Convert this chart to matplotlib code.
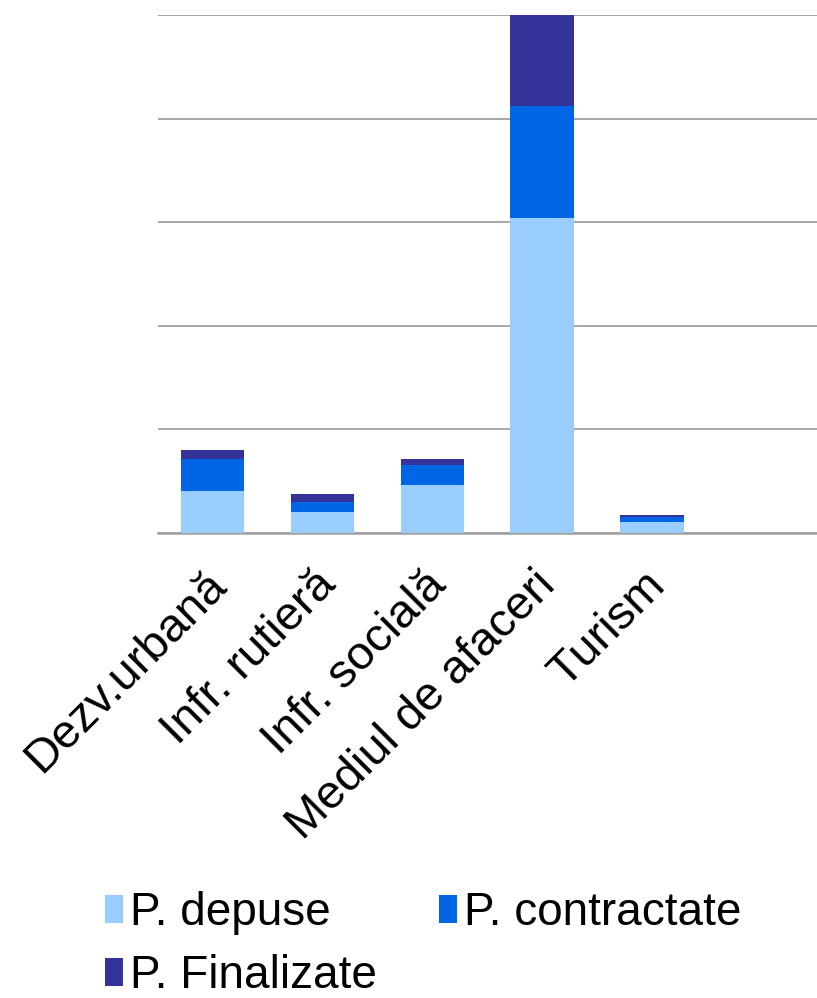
import matplotlib.pyplot as plt
import matplotlib.transforms as mtransforms
import numpy as np

plt.rcParams['font.family'] = ['Liberation Sans', 'DejaVu Sans']

categories = ["Dezv.urbană", "Infr. rutieră", "Infr. socială", "Mediul de afaceri", "Turism", ""]
depuse = [40.5, 20.3, 46.3, 304.0, 10.6, 0]
contractate = [30.9, 9.7, 19.3, 108.1, 4.8, 0]
finalizate = [8.7, 7.7, 5.8, 87.9, 1.9, 0]
series_names = ["P. depuse", "P. contractate", "P. Finalizate"]
colors = ["#99CCFF", "#0066E6", "#333399"]

fig = plt.figure(figsize=(8.17, 9.98), dpi=100)
ax = fig.add_axes([0.193, 0.466, 0.807, 0.519])

x = np.arange(len(categories))
w = 0.58
bottom = np.zeros(len(categories))
bars = []
for vals, name, c in zip([depuse, contractate, finalizate], series_names, colors):
    bars.append(ax.bar(x, vals, w, bottom=bottom, color=c, label=name, zorder=3))
    bottom += np.array(vals)

ax.set_xlim(-0.5, len(categories) - 0.5)
ax.set_ylim(0, 500)
ax.set_yticks(np.arange(0, 501, 100))
ax.yaxis.grid(True, color="#A0A0A0", linewidth=1.3, zorder=0)
ax.tick_params(axis="y", left=False, labelleft=False)
ax.tick_params(axis="x", bottom=False, pad=18)
for s in ["left", "right", "top"]:
    ax.spines[s].set_visible(False)
ax.spines["bottom"].set_color("#A0A0A0")
ax.spines["bottom"].set_linewidth(1.8)

ax.set_xticks(x)
ax.set_xticklabels(categories, rotation=45, ha="right", rotation_mode="anchor", fontsize=34)
shift = mtransforms.ScaledTranslation(-9 / 100, 0, fig.dpi_scale_trans)
for lab in ax.get_xticklabels():
    lab.set_transform(lab.get_transform() + shift)

# legend fills by column, so reorder to get depuse / contractate on the first row
order = [0, 2, 1]
fig.legend([bars[i] for i in order], [series_names[i] for i in order],
           loc="upper left", bbox_to_anchor=(0.128, 0.107), ncol=2, frameon=False,
           fontsize=33, handlelength=0.4, handleheight=0.57, handletextpad=0.15,
           columnspacing=1.35, labelspacing=0.42, borderpad=0, borderaxespad=0)

fig.savefig("out.png", dpi=100)
